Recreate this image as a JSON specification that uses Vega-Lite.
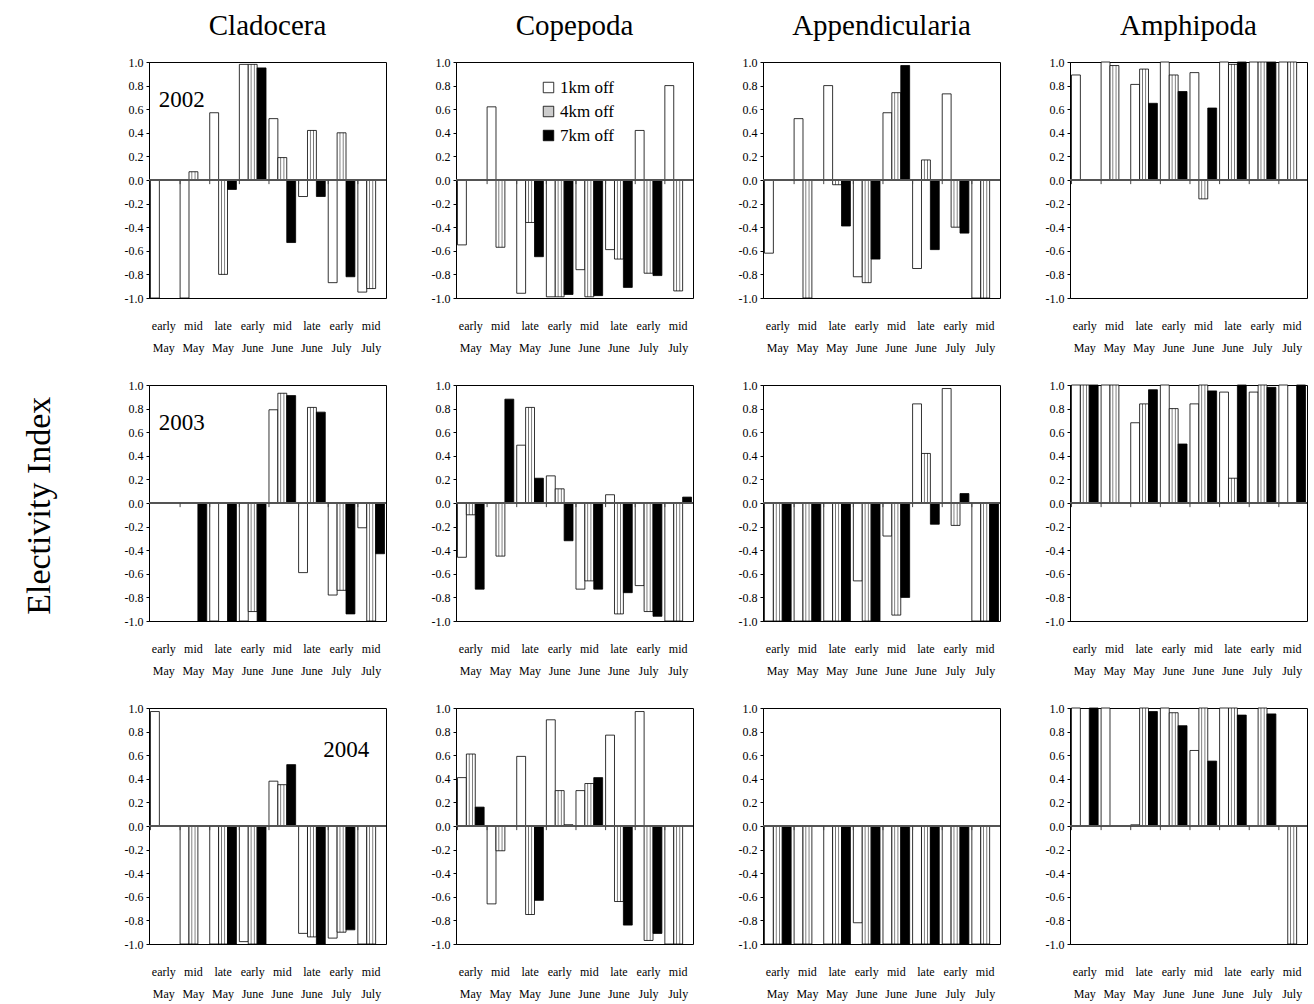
{
  "$schema": "https://vega.github.io/schema/vega-lite/v6.json",
  "background": "white",
  "padding": {"left": 22, "top": 12, "right": 5, "bottom": 5},
  "title": {"text": "Electivity Index", "orient": "left", "anchor": "middle", "font": "Liberation Serif", "fontSize": 34, "fontWeight": "normal", "color": "black", "offset": 67, "dx": 0},
  "config": {
    "font": "Liberation Serif",
    "view": {"stroke": "black", "strokeWidth": 1},
    "axis": {"labelFont": "Liberation Serif", "labelColor": "black", "domainColor": "black", "tickColor": "black", "grid": false}
  },
  "data": {"values": [
    {"t":"Cladocera","y":"2002","lab":"2002"},
    {"t":"Cladocera","y":"2003","lab":"2003"},
    {"t":"Cladocera","y":"2004","lab":"2004"},
    {"t":"Cladocera","y":"2002","p":"early May","1km off":-1},
    {"t":"Cladocera","y":"2002","p":"mid May","1km off":-1,"4km off":0.07},
    {"t":"Cladocera","y":"2002","p":"late May","1km off":0.57,"4km off":-0.8,"7km off":-0.08},
    {"t":"Cladocera","y":"2002","p":"early June","1km off":0.98,"4km off":0.98,"7km off":0.95},
    {"t":"Cladocera","y":"2002","p":"mid June","1km off":0.52,"4km off":0.19,"7km off":-0.53},
    {"t":"Cladocera","y":"2002","p":"late June","1km off":-0.14,"4km off":0.42,"7km off":-0.14},
    {"t":"Cladocera","y":"2002","p":"early July","1km off":-0.87,"4km off":0.4,"7km off":-0.82},
    {"t":"Cladocera","y":"2002","p":"mid July","1km off":-0.95,"4km off":-0.92},
    {"t":"Copepoda","y":"2002","p":"early May","1km off":-0.55},
    {"t":"Copepoda","y":"2002","p":"mid May","1km off":0.62,"4km off":-0.57},
    {"t":"Copepoda","y":"2002","p":"late May","1km off":-0.96,"4km off":-0.36,"7km off":-0.65},
    {"t":"Copepoda","y":"2002","p":"early June","1km off":-0.99,"4km off":-0.99,"7km off":-0.97},
    {"t":"Copepoda","y":"2002","p":"mid June","1km off":-0.76,"4km off":-0.99,"7km off":-0.98},
    {"t":"Copepoda","y":"2002","p":"late June","1km off":-0.59,"4km off":-0.67,"7km off":-0.91},
    {"t":"Copepoda","y":"2002","p":"early July","1km off":0.42,"4km off":-0.79,"7km off":-0.81},
    {"t":"Copepoda","y":"2002","p":"mid July","1km off":0.8,"4km off":-0.94},
    {"t":"Appendicularia","y":"2002","p":"early May","1km off":-0.62},
    {"t":"Appendicularia","y":"2002","p":"mid May","1km off":0.52,"4km off":-1},
    {"t":"Appendicularia","y":"2002","p":"late May","1km off":0.8,"4km off":-0.04,"7km off":-0.39},
    {"t":"Appendicularia","y":"2002","p":"early June","1km off":-0.82,"4km off":-0.87,"7km off":-0.67},
    {"t":"Appendicularia","y":"2002","p":"mid June","1km off":0.57,"4km off":0.74,"7km off":0.97},
    {"t":"Appendicularia","y":"2002","p":"late June","1km off":-0.75,"4km off":0.17,"7km off":-0.59},
    {"t":"Appendicularia","y":"2002","p":"early July","1km off":0.73,"4km off":-0.4,"7km off":-0.45},
    {"t":"Appendicularia","y":"2002","p":"mid July","1km off":-1,"4km off":-1},
    {"t":"Amphipoda","y":"2002","p":"early May","1km off":0.89},
    {"t":"Amphipoda","y":"2002","p":"mid May","1km off":1,"4km off":0.97},
    {"t":"Amphipoda","y":"2002","p":"late May","1km off":0.81,"4km off":0.94,"7km off":0.65},
    {"t":"Amphipoda","y":"2002","p":"early June","1km off":1,"4km off":0.89,"7km off":0.75},
    {"t":"Amphipoda","y":"2002","p":"mid June","1km off":0.91,"4km off":-0.16,"7km off":0.61},
    {"t":"Amphipoda","y":"2002","p":"late June","1km off":1,"4km off":0.98,"7km off":1},
    {"t":"Amphipoda","y":"2002","p":"early July","1km off":1,"4km off":1,"7km off":1},
    {"t":"Amphipoda","y":"2002","p":"mid July","1km off":1,"4km off":1},
    {"t":"Cladocera","y":"2003","p":"mid May","7km off":-1},
    {"t":"Cladocera","y":"2003","p":"late May","1km off":-1,"7km off":-1},
    {"t":"Cladocera","y":"2003","p":"early June","1km off":-1,"4km off":-0.92,"7km off":-1},
    {"t":"Cladocera","y":"2003","p":"mid June","1km off":0.79,"4km off":0.93,"7km off":0.91},
    {"t":"Cladocera","y":"2003","p":"late June","1km off":-0.59,"4km off":0.81,"7km off":0.77},
    {"t":"Cladocera","y":"2003","p":"early July","1km off":-0.78,"4km off":-0.74,"7km off":-0.94},
    {"t":"Cladocera","y":"2003","p":"mid July","1km off":-0.21,"4km off":-1,"7km off":-0.43},
    {"t":"Copepoda","y":"2003","p":"early May","1km off":-0.46,"4km off":-0.1,"7km off":-0.73},
    {"t":"Copepoda","y":"2003","p":"mid May","4km off":-0.45,"7km off":0.88},
    {"t":"Copepoda","y":"2003","p":"late May","1km off":0.49,"4km off":0.81,"7km off":0.21},
    {"t":"Copepoda","y":"2003","p":"early June","1km off":0.23,"4km off":0.12,"7km off":-0.32},
    {"t":"Copepoda","y":"2003","p":"mid June","1km off":-0.73,"4km off":-0.66,"7km off":-0.73},
    {"t":"Copepoda","y":"2003","p":"late June","1km off":0.07,"4km off":-0.94,"7km off":-0.76},
    {"t":"Copepoda","y":"2003","p":"early July","1km off":-0.7,"4km off":-0.92,"7km off":-0.96},
    {"t":"Copepoda","y":"2003","p":"mid July","1km off":-1,"4km off":-1,"7km off":0.05},
    {"t":"Appendicularia","y":"2003","p":"early May","1km off":-1,"4km off":-1,"7km off":-1},
    {"t":"Appendicularia","y":"2003","p":"mid May","1km off":-1,"4km off":-1,"7km off":-1},
    {"t":"Appendicularia","y":"2003","p":"late May","1km off":-1,"4km off":-1,"7km off":-1},
    {"t":"Appendicularia","y":"2003","p":"early June","1km off":-0.66,"4km off":-1,"7km off":-1},
    {"t":"Appendicularia","y":"2003","p":"mid June","1km off":-0.28,"4km off":-0.95,"7km off":-0.8},
    {"t":"Appendicularia","y":"2003","p":"late June","1km off":0.84,"4km off":0.42,"7km off":-0.18},
    {"t":"Appendicularia","y":"2003","p":"early July","1km off":0.97,"4km off":-0.19,"7km off":0.08},
    {"t":"Appendicularia","y":"2003","p":"mid July","1km off":-1,"4km off":-1,"7km off":-1},
    {"t":"Amphipoda","y":"2003","p":"early May","1km off":1,"4km off":1,"7km off":1},
    {"t":"Amphipoda","y":"2003","p":"mid May","1km off":1,"4km off":1},
    {"t":"Amphipoda","y":"2003","p":"late May","1km off":0.68,"4km off":0.84,"7km off":0.96},
    {"t":"Amphipoda","y":"2003","p":"early June","1km off":1,"4km off":0.8,"7km off":0.5},
    {"t":"Amphipoda","y":"2003","p":"mid June","1km off":0.84,"4km off":1,"7km off":0.95},
    {"t":"Amphipoda","y":"2003","p":"late June","1km off":0.94,"4km off":0.21,"7km off":1},
    {"t":"Amphipoda","y":"2003","p":"early July","1km off":0.94,"4km off":1,"7km off":0.98},
    {"t":"Amphipoda","y":"2003","p":"mid July","1km off":1,"7km off":1},
    {"t":"Cladocera","y":"2004","p":"early May","1km off":0.97},
    {"t":"Cladocera","y":"2004","p":"mid May","1km off":-1,"4km off":-1},
    {"t":"Cladocera","y":"2004","p":"late May","1km off":-1,"4km off":-1,"7km off":-1},
    {"t":"Cladocera","y":"2004","p":"early June","1km off":-0.98,"4km off":-1,"7km off":-1},
    {"t":"Cladocera","y":"2004","p":"mid June","1km off":0.38,"4km off":0.35,"7km off":0.52},
    {"t":"Cladocera","y":"2004","p":"late June","1km off":-0.91,"4km off":-0.94,"7km off":-1},
    {"t":"Cladocera","y":"2004","p":"early July","1km off":-0.95,"4km off":-0.9,"7km off":-0.88},
    {"t":"Cladocera","y":"2004","p":"mid July","1km off":-1,"4km off":-1},
    {"t":"Copepoda","y":"2004","p":"early May","1km off":0.41,"4km off":0.61,"7km off":0.16},
    {"t":"Copepoda","y":"2004","p":"mid May","1km off":-0.66,"4km off":-0.21},
    {"t":"Copepoda","y":"2004","p":"late May","1km off":0.59,"4km off":-0.75,"7km off":-0.63},
    {"t":"Copepoda","y":"2004","p":"early June","1km off":0.9,"4km off":0.3,"7km off":0.01},
    {"t":"Copepoda","y":"2004","p":"mid June","1km off":0.3,"4km off":0.36,"7km off":0.41},
    {"t":"Copepoda","y":"2004","p":"late June","1km off":0.77,"4km off":-0.64,"7km off":-0.84},
    {"t":"Copepoda","y":"2004","p":"early July","1km off":0.97,"4km off":-0.97,"7km off":-0.91},
    {"t":"Copepoda","y":"2004","p":"mid July","1km off":-1,"4km off":-1},
    {"t":"Appendicularia","y":"2004","p":"early May","1km off":-1,"4km off":-1,"7km off":-1},
    {"t":"Appendicularia","y":"2004","p":"mid May","1km off":-1,"4km off":-1},
    {"t":"Appendicularia","y":"2004","p":"late May","1km off":-1,"4km off":-1,"7km off":-1},
    {"t":"Appendicularia","y":"2004","p":"early June","1km off":-0.82,"4km off":-1,"7km off":-1},
    {"t":"Appendicularia","y":"2004","p":"mid June","1km off":-1,"4km off":-1,"7km off":-1},
    {"t":"Appendicularia","y":"2004","p":"late June","1km off":-1,"4km off":-1,"7km off":-1},
    {"t":"Appendicularia","y":"2004","p":"early July","1km off":-1,"4km off":-1,"7km off":-1},
    {"t":"Appendicularia","y":"2004","p":"mid July","1km off":-1,"4km off":-1},
    {"t":"Amphipoda","y":"2004","p":"early May","1km off":1,"7km off":1},
    {"t":"Amphipoda","y":"2004","p":"mid May","1km off":1},
    {"t":"Amphipoda","y":"2004","p":"late May","1km off":0.01,"4km off":1,"7km off":0.97},
    {"t":"Amphipoda","y":"2004","p":"early June","1km off":1,"4km off":0.96,"7km off":0.85},
    {"t":"Amphipoda","y":"2004","p":"mid June","1km off":0.64,"4km off":1,"7km off":0.55},
    {"t":"Amphipoda","y":"2004","p":"late June","1km off":1,"4km off":1,"7km off":0.94},
    {"t":"Amphipoda","y":"2004","p":"early July","4km off":1,"7km off":0.95},
    {"t":"Amphipoda","y":"2004","p":"mid July","4km off":-1}
  ]},
  "facet": {
    "row": {"field": "y", "type": "ordinal", "title": null, "header": {"labels": false}},
    "column": {"field": "t", "type": "nominal", "sort": ["Cladocera","Copepoda","Appendicularia","Amphipoda"], "title": null,
      "header": {"labelFont": "Liberation Serif", "labelFontSize": 29, "labelColor": "black", "labelPadding": 14}}
  },
  "spacing": {"row": 24, "column": 43},
  "resolve": {"axis": {"x": "independent", "y": "independent"}},
  "spec": {
    "width": 237,
    "height": 236,
    "layer": [
      {
        "transform": [
          {"fold": ["1km off","4km off","7km off"], "as": ["s","v"]},
          {"filter": "isValid(datum.v)"}
        ],
        "mark": {"type": "bar", "stroke": "black", "strokeWidth": 0.8},
        "encoding": {
          "x": {"field": "p", "type": "nominal",
            "sort": ["early May","mid May","late May","early June","mid June","late June","early July","mid July"],
            "scale": {"domain": ["early May","mid May","late May","early June","mid June","late June","early July","mid July"], "paddingInner": 0.1, "paddingOuter": 0.05},
            "title": null,
            "axis": {"ticks": false, "domain": false, "labelAngle": 0, "labelPadding": 22, "labelFontSize": 12, "labelLineHeight": 22, "labelExpr": "split(datum.label, ' ')", "labelOverlap": false, "labelLimit": 0}},
          "xOffset": {"field": "s", "type": "nominal", "sort": ["1km off","4km off","7km off"], "scale": {"paddingInner": 0, "paddingOuter": 0}},
          "y": {"field": "v", "type": "quantitative", "scale": {"domain": [-1, 1], "nice": false}, "title": null,
            "axis": {"values": [-1,-0.8,-0.6,-0.4,-0.2,0,0.2,0.4,0.6,0.8,1], "tickCount": 11, "labelExpr": "replace(format(datum.value, '.1f'), '\u2212', '-')", "labelFontSize": 12, "labelOverlap": false, "labelBound": false, "tickSize": 3, "labelPadding": 3}},
          "fill": {
            "condition": {"test": "datum.s === '4km off'", "value": {"gradient": "linear", "x1": 0, "y1": 0, "x2": 1, "y2": 0, "stops": [
                {"offset": 0, "color": "white"}, {"offset": 0.22, "color": "white"}, {"offset": 0.32, "color": "#707070"}, {"offset": 0.42, "color": "white"},
                {"offset": 0.58, "color": "white"}, {"offset": 0.68, "color": "#707070"}, {"offset": 0.78, "color": "white"}, {"offset": 1, "color": "white"}]}},
            "field": "s", "type": "nominal",
            "scale": {"domain": ["1km off","4km off","7km off"], "range": ["white", "#cccccc", "black"]},
            "legend": {"orient": "none", "legendX": 391, "legendY": 17, "title": null, "symbolType": "square", "symbolSize": 110, "symbolStrokeColor": "black", "symbolStrokeWidth": 0.8, "labelFont": "Liberation Serif", "labelFontSize": 17, "labelColor": "black", "rowPadding": 6, "labelOffset": 3}}
        }
      },
      {
        "mark": {"type": "rule", "color": "#555", "strokeWidth": 1},
        "encoding": {"y": {"datum": 0}}
      },
      {
        "transform": [{"filter": "isValid(datum.p)"}],
        "mark": {"type": "rule", "color": "#444", "strokeWidth": 1},
        "encoding": {
          "x": {"field": "p", "type": "nominal", "bandPosition": 0, "sort": ["early May","mid May","late May","early June","mid June","late June","early July","mid July"]},
          "y": {"datum": 0},
          "y2": {"datum": -0.035}
        }
      },
      {
        "transform": [{"filter": "datum.lab == '2002' || datum.lab == '2003'"}],
        "mark": {"type": "text", "align": "left", "baseline": "middle", "fontSize": 23, "font": "Liberation Serif", "color": "black", "dx": -5},
        "encoding": {"x": {"datum": "early May"}, "y": {"datum": 0.68}, "text": {"field": "lab"}}
      },
      {
        "transform": [{"filter": "datum.lab == '2004'"}],
        "mark": {"type": "text", "align": "right", "baseline": "middle", "fontSize": 23, "font": "Liberation Serif", "color": "black", "dx": -2},
        "encoding": {"x": {"datum": "mid July"}, "y": {"datum": 0.64}, "text": {"field": "lab"}}
      }
    ]
  }
}
